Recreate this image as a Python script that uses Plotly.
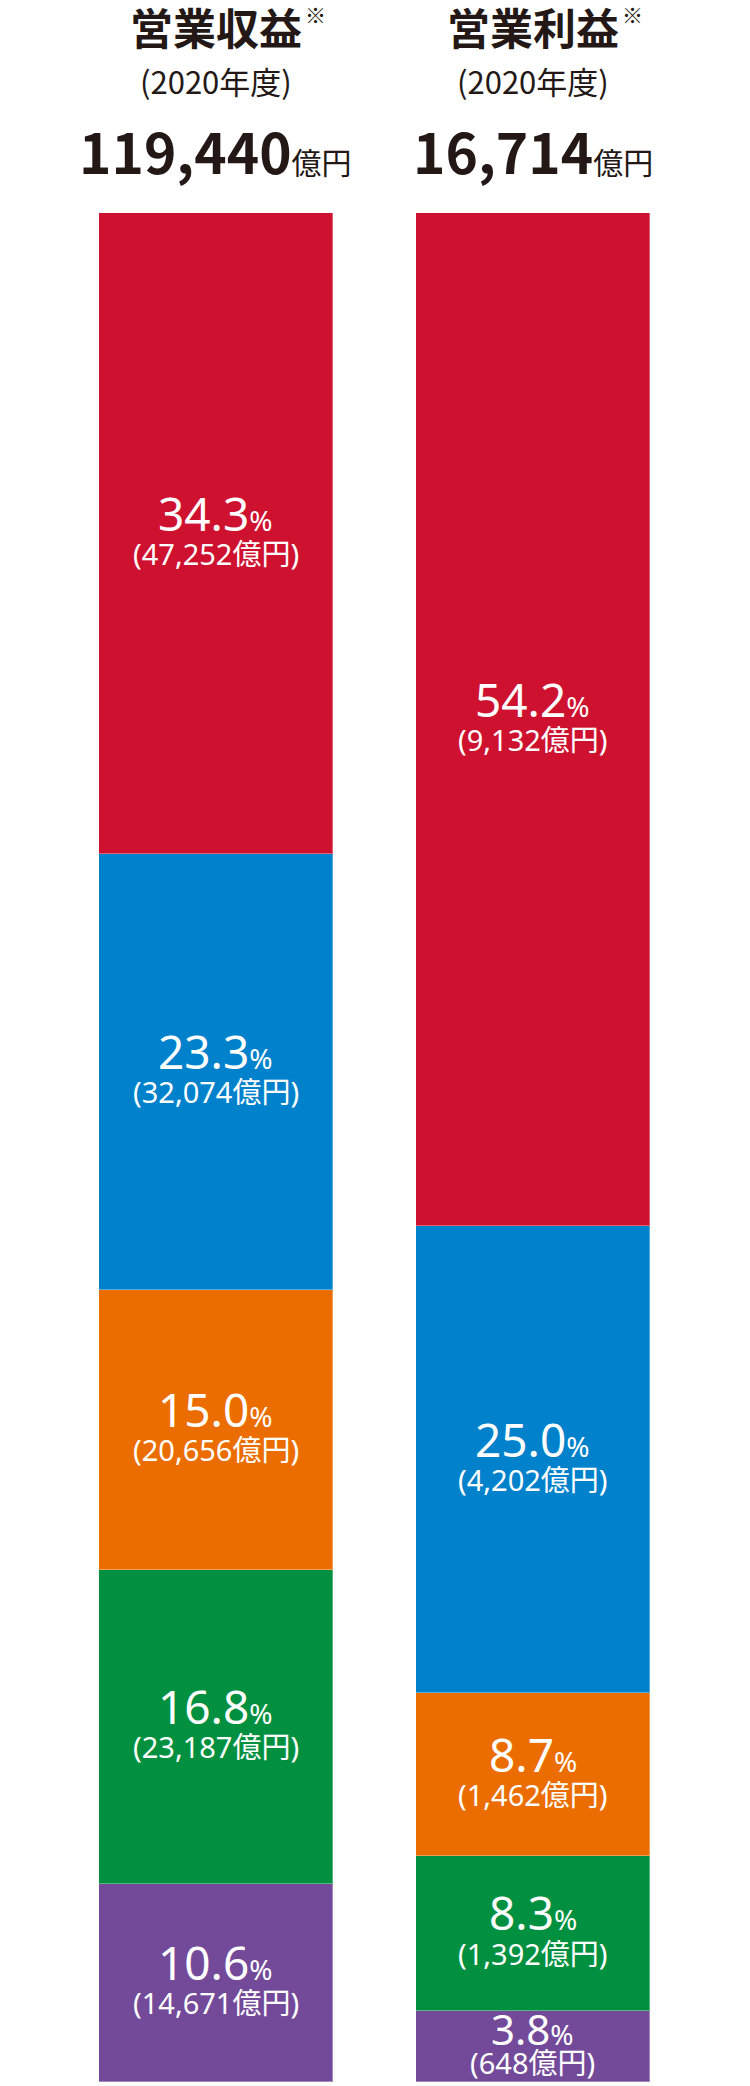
import plotly.graph_objects as go

# ---- data ----
categories = ["営業収益", "営業利益"]
years = ["(2020年度)", "(2020年度)"]
totals = ["119,440", "16,714"]
# segments listed top-to-bottom
segment_names = ["セグメント1", "セグメント2", "セグメント3", "セグメント4", "セグメント5"]
revenue_pct = [34.3, 23.3, 15.0, 16.8, 10.6]
revenue_amt = ["47,252", "32,074", "20,656", "23,187", "14,671"]
profit_pct = [54.2, 25.0, 8.7, 8.3, 3.8]
profit_amt = ["9,132", "4,202", "1,462", "1,392", "648"]
colors = ["#CF1130", "#0081CC", "#EB6D00", "#00903F", "#734A9A"]

W, H = 750, 2086
TOP, BOT = 213, 4
PH = H - TOP - BOT
c0, gap = 215.5, 317.0  # pixel centre of first bar, spacing
bar_w = 234.0


def py(px):
    """pixel-from-top -> paper y"""
    return (H - BOT - px) / PH


fig = go.Figure()
n = len(segment_names)
for i in reversed(range(n)):
    fig.add_trace(go.Bar(
        x=categories, y=[revenue_pct[i], profit_pct[i]],
        name=segment_names[i], marker_color=colors[i],
        marker_line=dict(width=1, color="rgba(255,255,255,0.35)"),
        width=bar_w / gap, hoverinfo="skip", showlegend=False,
    ))

ann = []
lab_font = "Noto Sans, Noto Sans CJK JP"
for ci, (pcts, amts) in enumerate([(revenue_pct, revenue_amt), (profit_pct, profit_amt)]):
    base = 0.0
    for i in reversed(range(n)):
        mid = base + pcts[i] / 2
        base += pcts[i]
        small = pcts[i] < 5
        big = 42 if small else 46
        s1, s2 = (18, -16) if small else (21, -20)
        ann.append(dict(x=categories[ci], y=mid, xref="x", yref="y", yshift=s1,
                        text=f"{pcts[i]:.1f}<span style='font-size:28px'>%</span>",
                        showarrow=False, font=dict(family=lab_font, size=big, color="white"),
                        xanchor="center", yanchor="middle"))
        ann.append(dict(x=categories[ci], y=mid, xref="x", yref="y", yshift=s2,
                        text=f"({amts[i]}億円)",
                        showarrow=False, font=dict(family=lab_font, size=29, color="white"),
                        xanchor="center", yanchor="middle"))

hdr_font = "Noto Sans CJK JP"
dark = "#231815"
for ci in range(2):
    xc = (c0 + ci * gap) / W
    ann.append(dict(x=xc, y=py(26), xref="paper", yref="paper", yanchor="middle", xanchor="center",
                    text=f"<b>{categories[ci]}</b>", showarrow=False,
                    font=dict(family=hdr_font, size=43, color=dark)))
    ann.append(dict(x=xc + 87 / W, y=py(14), xref="paper", yref="paper", yanchor="middle", xanchor="left",
                    text="※", showarrow=False,
                    font=dict(family=hdr_font, size=21, color=dark)))
    ann.append(dict(x=xc, y=py(80), xref="paper", yref="paper", yanchor="middle", xanchor="center",
                    text=years[ci], showarrow=False,
                    font=dict(family=hdr_font, size=31, color=dark)))
    ann.append(dict(x=xc, y=py(150), xref="paper", yref="paper", yanchor="middle", xanchor="center",
                    text=f"<b>{totals[ci]}</b><span style='font-size:30px'>億円</span>", showarrow=False,
                    font=dict(family=hdr_font, size=55, color=dark)))

fig.update_layout(
    width=W, height=H, barmode="stack", bargap=0,
    margin=dict(l=0, r=0, t=TOP, b=BOT),
    paper_bgcolor="white", plot_bgcolor="white",
    xaxis=dict(type="category", range=[-c0 / gap, (W - c0) / gap], visible=False, fixedrange=True),
    yaxis=dict(range=[0, 100], visible=False, fixedrange=True),
    annotations=ann,
)
fig.update_yaxes(automargin=False)
fig.update_xaxes(automargin=False)

fig.write_html("out.html", config={"displayModeBar": False})
